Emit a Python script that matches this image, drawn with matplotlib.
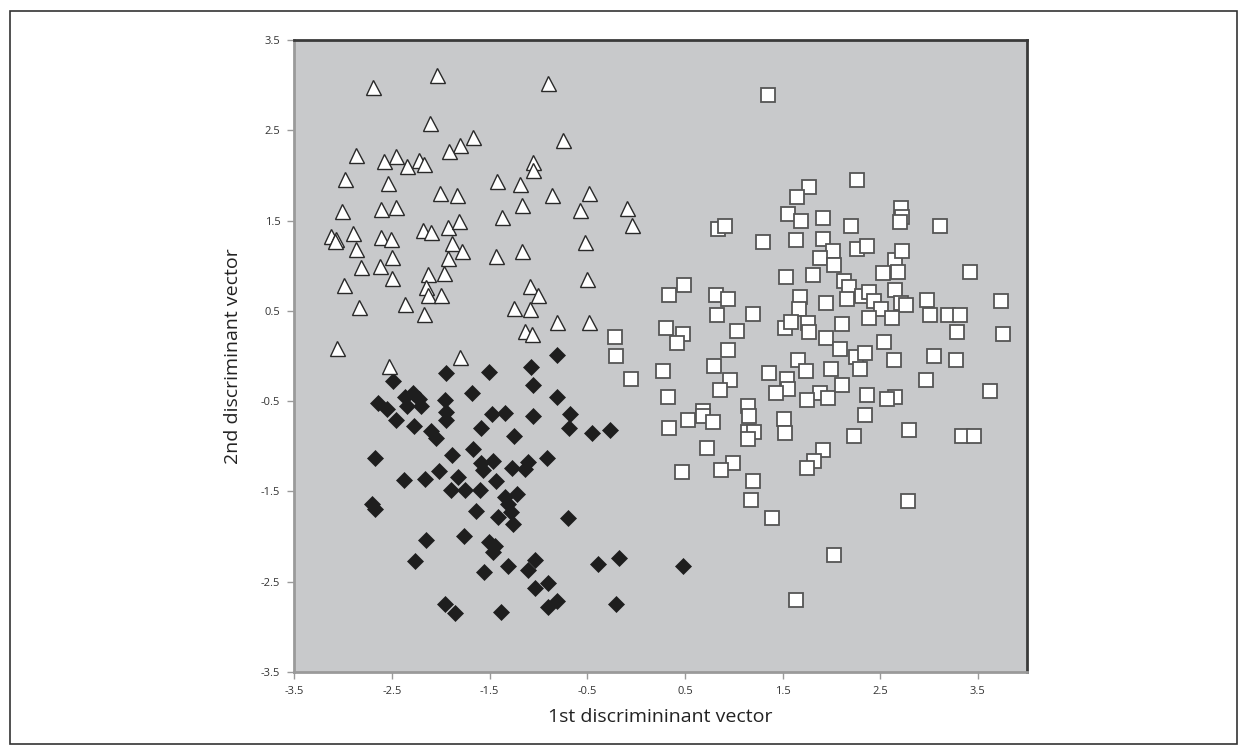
import matplotlib
matplotlib.use("Agg")
import matplotlib.pyplot as plt
from matplotlib.patches import Rectangle

plt.rcParams['font.family'] = ['Open Sans', 'DejaVu Sans']

# group 1 - open triangles (upper left)
tri_x = [-2.69, -2.04, -2.11, -1.67, -1.80, -1.92, -2.87, -2.58, -2.46, -2.35,
         -2.22, -2.17, -1.06, -1.06, -2.98, -2.54, -1.42, -1.19, -2.01, -1.83,
         -3.01, -2.61, -2.46, -1.17, -1.37, -3.12, -3.07, -3.08, -2.90, -2.61,
         -2.51, -2.18, -2.10, -1.93, -1.81, -2.87, -2.50, -1.88, -1.78, -1.93,
         -1.43, -1.17, -2.82, -2.62, -2.13, -1.97, -2.99, -2.50, -2.15, -2.13,
         -2.00, -1.09, -2.84, -2.37, -2.17, -1.25, -1.09, -1.14, -1.07, -3.06,
         -2.53, -1.80, -0.90, -0.75, -0.86, -0.48, -0.57, -0.09, -0.04, -0.52,
         -0.50, -1.00, -0.81, -0.48]
tri_y = [2.98, 3.11, 2.58, 2.42, 2.34, 2.27, 2.23, 2.16, 2.22, 2.10,
         2.17, 2.13, 2.15, 2.06, 1.96, 1.92, 1.94, 1.91, 1.80, 1.78,
         1.61, 1.63, 1.65, 1.67, 1.54, 1.33, 1.30, 1.27, 1.36, 1.32,
         1.29, 1.40, 1.37, 1.43, 1.50, 1.18, 1.10, 1.25, 1.16, 1.08,
         1.11, 1.16, 0.99, 1.00, 0.91, 0.92, 0.79, 0.86, 0.76, 0.68,
         0.67, 0.78, 0.54, 0.58, 0.47, 0.53, 0.52, 0.28, 0.24, 0.09,
         -0.11, -0.01, 3.02, 2.39, 1.78, 1.81, 1.62, 1.64, 1.45, 1.26,
         0.85, 0.67, 0.38, 0.38]

# group 2 - filled diamonds (lower left)
dia_x = [-2.49, -1.95, -1.51, -1.08, -1.06, -0.81, -0.81, -2.64, -2.55, -2.37,
         -2.28, -2.22, -2.35, -2.20, -1.96, -1.95, -1.95, -1.68, -2.46, -2.27,
         -2.10, -2.05, -1.59, -1.48, -1.34, -1.25, -1.06, -0.68, -0.69, -0.45,
         -0.27, -2.67, -1.89, -1.67, -1.59, -1.46, -1.57, -1.27, -1.11, -1.14,
         -0.91, -2.38, -2.16, -2.02, -1.82, -1.43, -1.90, -1.75, -1.60, -1.34,
         -1.22, -1.31, -1.28, -1.26, -2.70, -2.67, -1.64, -1.41, -0.70, -2.15,
         -1.76, -1.51, -1.44, -1.46, -2.26, -1.56, -1.31, -1.11, -1.03, -1.03,
         -0.90, -0.81, -0.90, -0.39, -0.17, -0.21, 0.48, -1.96, -1.85, -1.38]
dia_y = [-0.28, -0.19, -0.18, -0.12, -0.32, 0.01, -0.45, -0.52, -0.59, -0.45,
         -0.41, -0.48, -0.55, -0.55, -0.49, -0.62, -0.71, -0.41, -0.71, -0.78,
         -0.83, -0.91, -0.80, -0.64, -0.63, -0.89, -0.67, -0.64, -0.80, -0.85,
         -0.82, -1.13, -1.10, -1.03, -1.19, -1.16, -1.26, -1.24, -1.17, -1.25,
         -1.13, -1.37, -1.36, -1.27, -1.34, -1.38, -1.49, -1.49, -1.49, -1.56,
         -1.53, -1.64, -1.73, -1.86, -1.64, -1.69, -1.72, -1.78, -1.80, -2.04,
         -1.99, -2.06, -2.11, -2.17, -2.27, -2.39, -2.33, -2.37, -2.26, -2.57,
         -2.51, -2.71, -2.78, -2.30, -2.24, -2.75, -2.33, -2.75, -2.85, -2.84]

# group 3 - open squares (right)
sq_x = [1.35, 1.77, 1.65, 2.26, 1.56, 1.69, 1.91, 2.20, 2.71, 2.72,
        2.70, 3.11, 0.84, 0.91, 1.30, 1.64, 1.91, 2.02, 1.88, 2.03,
        2.26, 2.36, 2.65, 2.72, 2.53, 2.68, 3.42, 1.54, 1.81, 2.13,
        2.18, 0.49, 0.34, 0.82, 0.94, 1.20, 0.83, 0.31, 0.48, 0.42,
        1.03, -0.22, -0.21, 0.94, 1.68, 1.95, 2.16, 2.31, 2.39, 2.44,
        2.51, 2.39, 2.65, 2.71, 2.76, 2.98, 2.62, 3.01, 3.19, 3.32,
        3.74, 1.67, 1.53, 1.59, 1.76, 1.77, 1.95, 2.11, 2.09, 2.54,
        3.29, 3.76, 1.66, 2.25, 2.34, 2.64, 3.05, 3.28, 1.36, 1.74,
        2.00, 2.29, 2.97, 1.55, 1.56, 1.43, 1.88, 1.97, 2.11, 1.75,
        2.37, 2.65, 2.57, 3.62, 1.51, 1.53, 2.34, 2.23, 2.80, 3.34,
        3.46, 1.91, 1.82, 1.75, 2.78, 1.39, 2.03, 1.64, -0.05, 0.28,
        0.80, 0.96, 0.86, 0.33, 0.69, 0.69, 0.53, 0.79, 0.34, 1.15,
        1.16, 1.15, 1.21, 1.15, 0.73, 0.99, 0.87, 0.47, 1.20, 1.18]
sq_y = [2.89, 1.87, 1.76, 1.95, 1.57, 1.50, 1.53, 1.44, 1.64, 1.54,
        1.48, 1.44, 1.41, 1.44, 1.26, 1.28, 1.29, 1.16, 1.09, 1.01,
        1.18, 1.22, 1.06, 1.16, 0.92, 0.93, 0.93, 0.88, 0.90, 0.83,
        0.76, 0.79, 0.67, 0.68, 0.63, 0.47, 0.45, 0.31, 0.24, 0.14,
        0.28, 0.21, 0.00, 0.07, 0.65, 0.59, 0.63, 0.66, 0.71, 0.61,
        0.52, 0.42, 0.73, 0.59, 0.57, 0.62, 0.42, 0.45, 0.45, 0.45,
        0.61, 0.52, 0.31, 0.38, 0.36, 0.26, 0.20, 0.35, 0.08, 0.16,
        0.26, 0.24, -0.04, -0.01, 0.03, -0.05, 0.00, -0.04, -0.19, -0.17,
        -0.14, -0.14, -0.27, -0.25, -0.37, -0.41, -0.41, -0.47, -0.32, -0.49,
        -0.43, -0.46, -0.48, -0.39, -0.70, -0.85, -0.65, -0.89, -0.82, -0.89,
        -0.89, -1.04, -1.16, -1.24, -1.61, -1.79, -2.20, -2.70, -0.25, -0.17,
        -0.11, -0.27, -0.38, -0.46, -0.61, -0.67, -0.71, -0.73, -0.80, -0.55,
        -0.66, -0.84, -0.84, -0.92, -1.02, -1.18, -1.26, -1.28, -1.38, -1.60]

x_ticks = [-3.5, -2.5, -1.5, -0.5, 0.5, 1.5, 2.5, 3.5]
y_ticks = [-3.5, -2.5, -1.5, -0.5, 0.5, 1.5, 2.5, 3.5]

fig = plt.figure(figsize=(12.47, 7.54), dpi=100)
fig.patch.set_facecolor('white')
ax = fig.add_axes([0.236, 0.1088, 0.5873, 0.8382])
ax.set_facecolor('#c8c9cb')

ax.plot(sq_x, sq_y, 's', ms=10, mfc='white', mec='#555555', mew=1.3, zorder=3)
ax.plot(dia_x, dia_y, 'D', ms=8.4, mfc='#1e1e1e', mec='#1e1e1e', mew=0.5, zorder=3)
ax.plot(tri_x, tri_y, '^', ms=10.8, mfc='white', mec='#2a2a2a', mew=1.0, zorder=4)

ax.set_xlim(-3.5, 4.0)
ax.set_ylim(-3.5, 3.5)
ax.set_xticks(x_ticks)
ax.set_yticks(y_ticks)
ax.set_xticklabels([f'{t:g}' for t in x_ticks])
ax.set_yticklabels([f'{t:g}' for t in y_ticks])
ax.tick_params(direction='out', length=5, width=1, color='#9a9a9a',
               labelsize=8, labelcolor='#333333', pad=5)

for side in ['top', 'right']:
    ax.spines[side].set_color('#3a3a3a')
    ax.spines[side].set_linewidth(2)
for side in ['left', 'bottom']:
    ax.spines[side].set_color('#9a9a9a')
    ax.spines[side].set_linewidth(2)

ax.set_xlabel('1st discrimininant vector', fontsize=14, color='#222222', labelpad=8)
ax.set_ylabel('2nd discriminant vector', fontsize=14, color='#222222', labelpad=14)

# outer frame around the whole chart
fig.patches.append(Rectangle((10 / 1247, 10 / 754), 1227 / 1247, 733 / 754,
                             transform=fig.transFigure, fill=False,
                             edgecolor='#333333', linewidth=1.2))

fig.savefig('out.png', dpi=100, facecolor='white')
